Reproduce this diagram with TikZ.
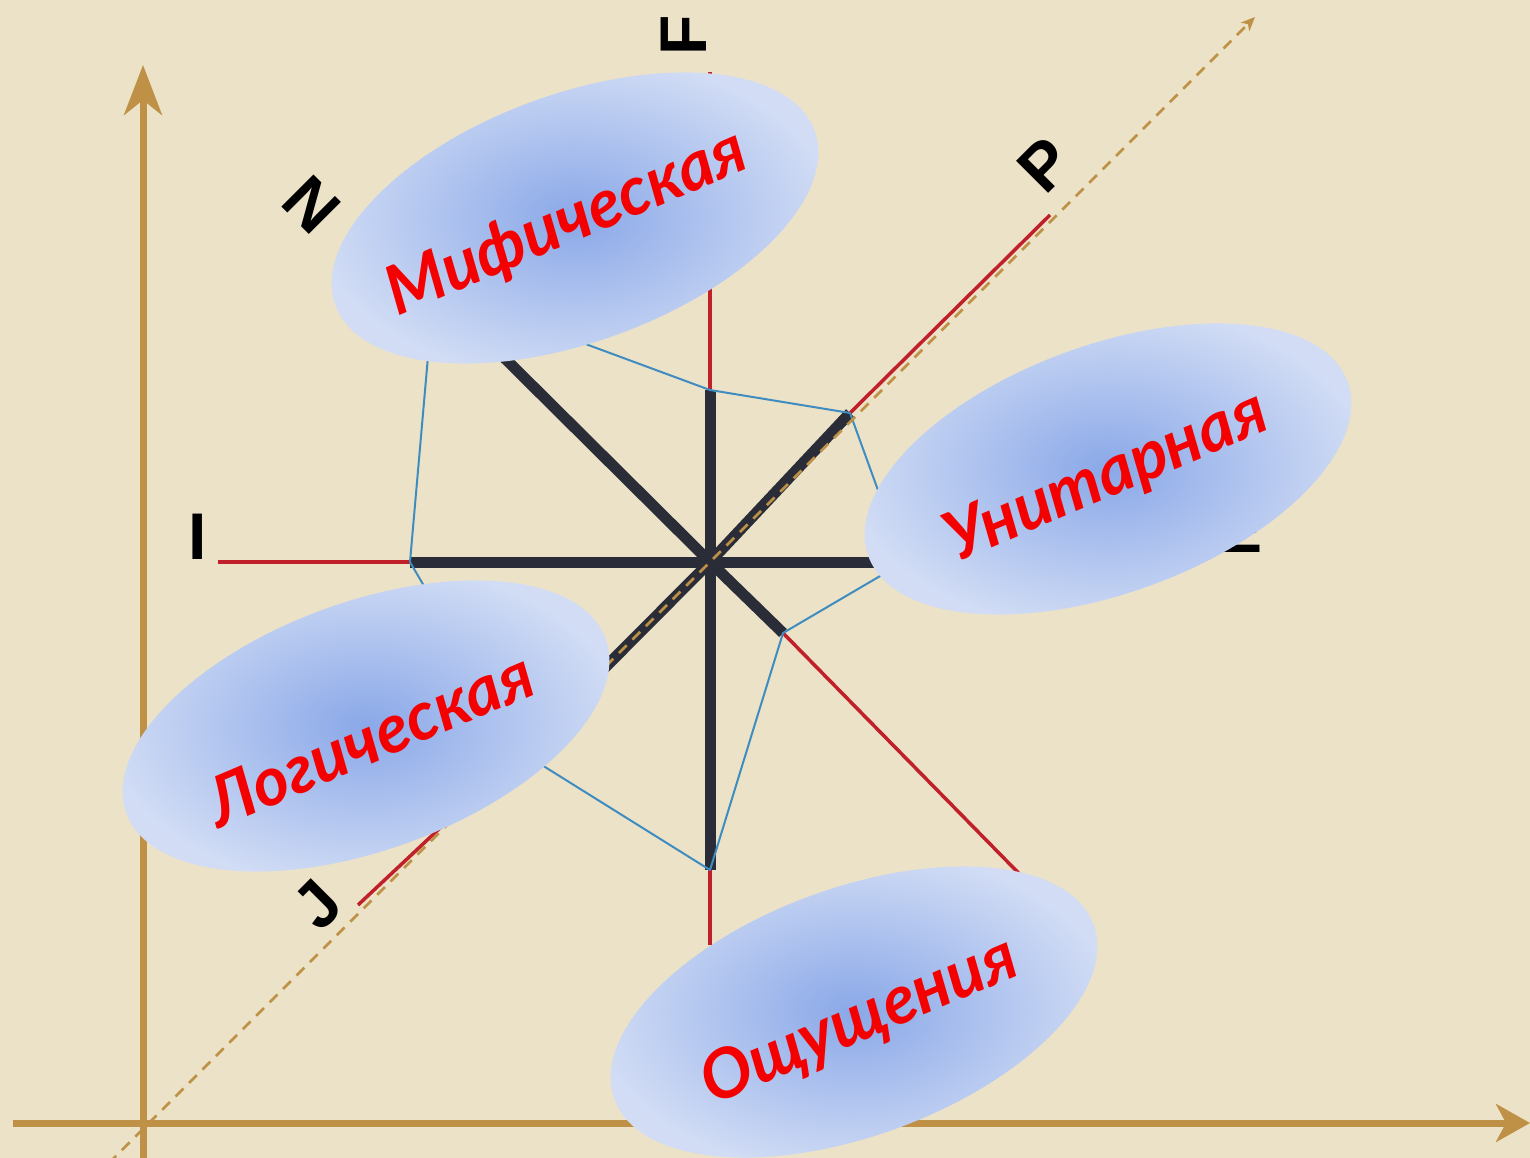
\documentclass[tikz,border=0pt]{standalone}
\usepackage{fontspec}
\setmainfont{Liberation Sans}
\newfontfamily\ellfont{Lato}
\usetikzlibrary{shapes.geometric,arrows.meta}
\definecolor{bg}{RGB}{236,226,200}
\definecolor{gold}{RGB}{190,145,70}
\definecolor{spokered}{RGB}{192,32,42}
\definecolor{spokeblack}{RGB}{42,45,56}
\definecolor{polyblue}{RGB}{62,140,192}
\definecolor{ellin}{RGB}{138,168,232}
\definecolor{ellout}{RGB}{210,221,245}
\definecolor{ellred}{RGB}{245,0,0}
\tikzset{
  axisline/.style={draw=gold, line width=7pt},
  redspoke/.style={draw=spokered, line width=3.5pt},
  blackspoke/.style={draw=spokeblack, line width=11pt},
  poly/.style={draw=polyblue, line width=2pt, line join=round},
  diag/.style={draw=gold, line width=2.5pt, dash pattern=on 11pt off 8pt},
  axlabel/.style={font=\fontsize{66}{66}\selectfont\bfseries, text=black, inner sep=0pt},
  blob/.style={ellipse, minimum width=510pt, minimum height=248pt, inner sep=0pt,
    inner color=ellin, outer color=ellout, rotate=20},
  blobtext/.style={font=\ellfont\fontsize{68}{68}\selectfont\bfseries\itshape, text=ellred, rotate=23, inner sep=0pt}
}
\begin{document}
\begin{tikzpicture}[x=1pt,y=-1pt]
\useasboundingbox (0,0) rectangle (1530,1158);
\clip (0,0) rectangle (1530,1158);
\fill[bg] (0,0) rectangle (1530,1158);

% axes
\coordinate (hx0) at (13,1123);
\coordinate (hx1) at (1530,1123);
\coordinate (vy0) at (143,1170);
\coordinate (vy1) at (143,65);
\draw[axisline, -{Stealth[length=34pt,width=38pt,inset=10pt]}] (hx0) -- (hx1);
\draw[axisline, -{Stealth[length=50pt,width=38pt,inset=15pt]}] (vy0) -- (vy1);

% centre, vertices and axis ends
\coordinate (C) at (710,562);
\coordinate (vF) at (710,390);
\coordinate (vP) at (850,413);
\coordinate (vE) at (904,562);
\coordinate (vSE) at (783,633);
\coordinate (vS) at (710,870);
\coordinate (vJ) at (521,752);
\coordinate (vI) at (410,562);
\coordinate (vN) at (434,288);
\coordinate (aF) at (710,72);
\coordinate (aP) at (1050,215);
\coordinate (aE) at (1190,562);
\coordinate (aSE) at (1045,900);
\coordinate (aS) at (710,945);
\coordinate (aJ) at (358,905);
\coordinate (aI) at (218,562);
\coordinate (aN) at (395,247);

% red outer spokes
\foreach \v/\a in {vF/aF,vP/aP,vE/aE,vSE/aSE,vS/aS,vJ/aJ,vI/aI,vN/aN}
  \draw[redspoke] (\v) -- (\a);
% black inner spokes
\foreach \v in {vF,vP,vE,vSE,vS,vJ,vI,vN}
  \draw[blackspoke] (C) -- (\v);
% polygon
\draw[poly] (vF) -- (vP) -- (vE) -- (vSE) -- (vS) -- (vJ) -- (vI) -- (vN) -- cycle;

% dashed diagonal
\coordinate (d0) at (95,1177);
\coordinate (d1) at (1255,17);
\draw[diag, -{Stealth[length=14pt,width=12pt,inset=4pt]}] (d0) -- (d1);

% axis labels
\node[axlabel, rotate=90] (lF) at (684,35) {F};
\node[axlabel, rotate=135] (lN) at (312,205) {N};
\node[axlabel, rotate=45] (lP) at (1045,165) {P};
\node[axlabel] (lI) at (198,537) {I};
\node[axlabel] (lE) at (1240,530) {E};
\node[axlabel, rotate=45] (lJ) at (318,905) {J};

% ellipses
\node[blob] (mif) at (575,218) {};
\node[blob] (uni) at (1108,469) {};
\node[blob] (log) at (366,726) {};
\node[blob] (osh) at (854,1012) {};
\node[blobtext] (tmif) at (567,224) {Мифическая};
\node[blobtext] (tuni) at (1107,478) {Унитарная};
\node[blobtext] (tlog) at (370,738) {Логическая};
\node[blobtext] (tosh) at (860,1022) {Ощущения};
\end{tikzpicture}
\end{document}
